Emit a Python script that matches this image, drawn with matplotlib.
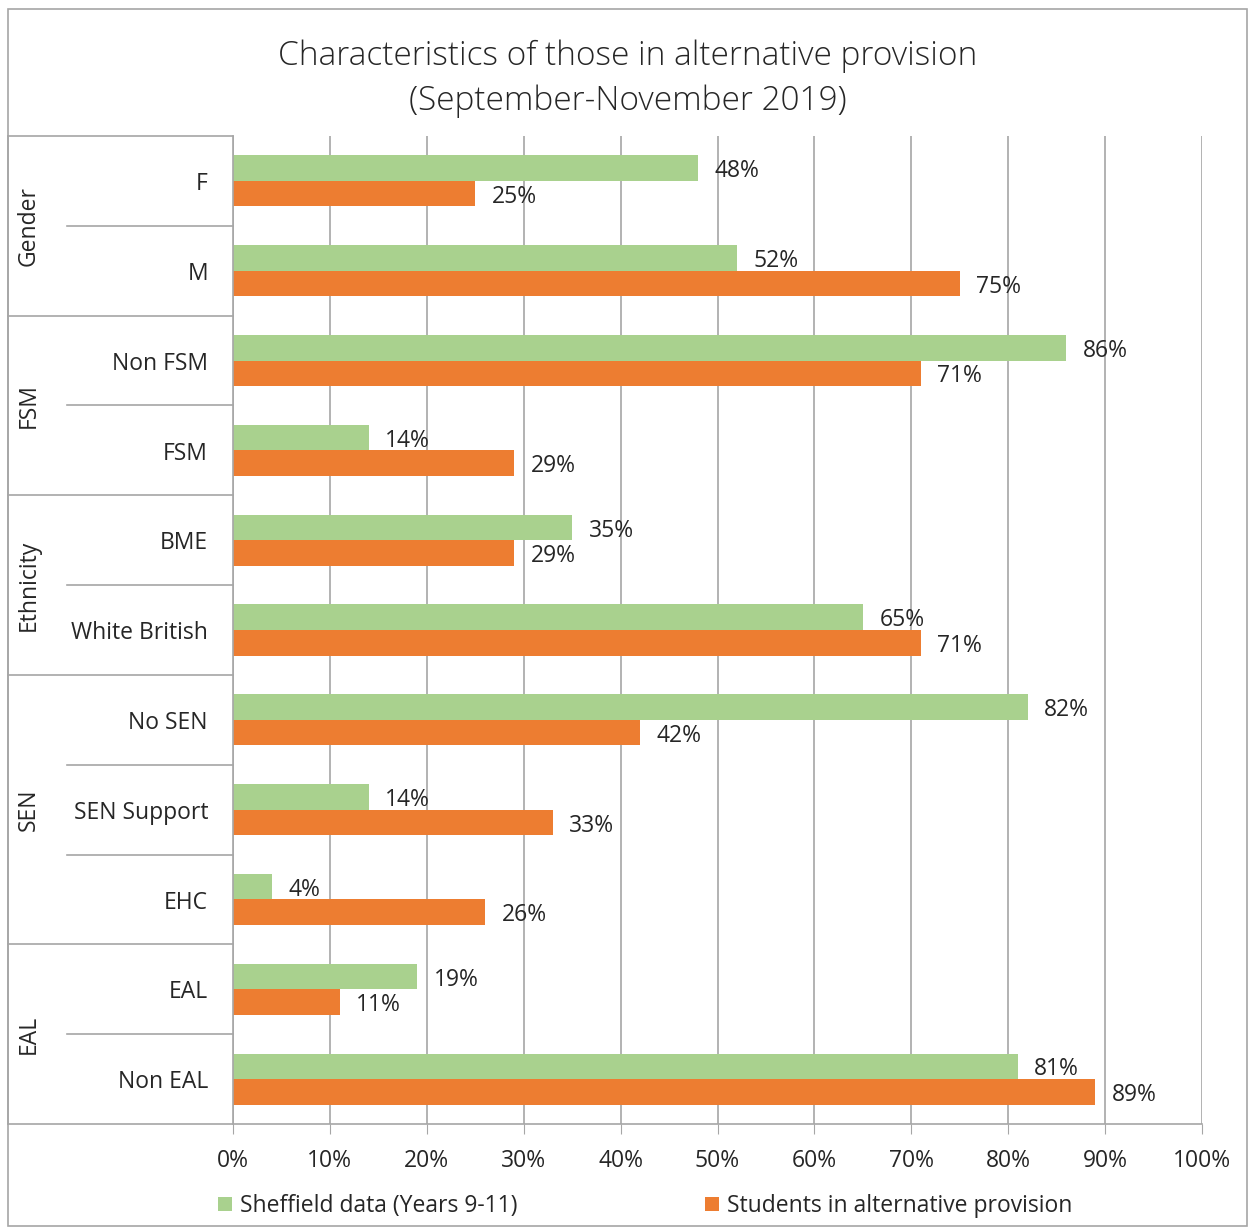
import numpy as np
import matplotlib
matplotlib.use("Agg")
import matplotlib.pyplot as plt
from matplotlib.patches import Rectangle
from matplotlib.lines import Line2D

plt.rcParams["font.family"] = ["Open Sans", "DejaVu Sans"]

# Данные
categories = ["F", "M", "Non FSM", "FSM", "BME", "White British",
              "No SEN", "SEN Support", "EHC", "EAL", "Non EAL"]
groups = ["Gender", "FSM", "Ethnicity", "SEN", "EAL"]
group_sizes = [2, 2, 2, 3, 2]
sheffield = [48, 52, 86, 14, 35, 65, 82, 14, 4, 19, 81]
alt_provision = [25, 75, 71, 29, 29, 71, 42, 33, 26, 11, 89]
x_ticks = [0, 10, 20, 30, 40, 50, 60, 70, 80, 90, 100]

GREEN = "#A9D18E"
ORANGE = "#ED7D31"
TEXT = "#262626"
GRID = "#A6A6A6"

W, H = 1248, 1227
fig = plt.figure(figsize=(W / 100, H / 100), dpi=100)
ax = fig.add_axes([233 / W, 1 - 1124 / H, (1202 - 233) / W, (1124 - 136) / H])

y = np.arange(len(categories))
h = 0.284
dy = 0.035  # небольшой сдвиг текста вниз
b1 = ax.barh(y - h / 2, sheffield, height=h, color=GREEN,
             label="Sheffield data (Years 9-11)", zorder=2)
b2 = ax.barh(y + h / 2, alt_provision, height=h, color=ORANGE,
             label="Students in alternative provision", zorder=2)

ax.set_xlim(0, 100)
ax.set_ylim(len(categories) - 0.5, -0.5)
ax.set_xticks(x_ticks)
ax.set_xticklabels([f"{v}%" for v in x_ticks], fontsize=16.5, color=TEXT)
ax.tick_params(axis="x", direction="out", length=7, color=GRID, pad=11)
ax.set_yticks([])
ax.grid(axis="x", color=GRID, linewidth=1.2, zorder=0)
for s in ["top", "right", "bottom"]:
    ax.spines[s].set_visible(False)
ax.spines["left"].set_color(GRID)
ax.spines["left"].set_linewidth(1.2)

# Подписи значений
for yi, v in zip(y, sheffield):
    ax.text(v + 1.7, yi - h / 2 + dy, f"{v}%", va="center", ha="left",
            fontsize=16.5, color=TEXT)
for yi, v in zip(y, alt_provision):
    ax.text(v + 1.7, yi + h / 2 + dy, f"{v}%", va="center", ha="left",
            fontsize=16.5, color=TEXT)

# Многоуровневая ось категорий
tr = ax.get_yaxis_transform()
x_outer = (8 - 233) / 969
x_inner = (67 - 233) / 969
x_group = (29 - 233) / 969
x_cat = (208 - 233) / 969

for yi, c in zip(y, categories):
    ax.text(x_cat, yi + dy, c, transform=tr, ha="right", va="center",
            fontsize=16.5, color=TEXT)

start = 0
ax.add_line(Line2D([x_outer, 0], [-0.5, -0.5], transform=tr, color=GRID,
                   lw=1.2, clip_on=False))
for g, n in zip(groups, group_sizes):
    end = start + n
    for k in range(start + 1, end):
        ax.add_line(Line2D([x_inner, 0], [k - 0.5, k - 0.5], transform=tr,
                           color=GRID, lw=1.2, clip_on=False))
    if end < len(categories):
        ax.add_line(Line2D([x_outer, 0], [end - 0.5, end - 0.5], transform=tr,
                           color=GRID, lw=1.2, clip_on=False))
    ax.text(x_group, (start + end - 1) / 2, g, transform=tr, rotation=90,
            ha="center", va="center", fontsize=16.5, color=TEXT)
    start = end

# нижняя линия оси
ax.add_line(Line2D([x_outer, 1], [len(categories) - 0.5] * 2, transform=tr,
                   color=GRID, lw=1.2, clip_on=False))
ax.add_line(Line2D([x_outer, x_outer], [-0.5, len(categories) - 0.5],
                   transform=tr, color=GRID, lw=1.2, clip_on=False))

# Заголовок
fig.text(628 / W, 1 - 79 / H,
         "Characteristics of those in alternative provision\n(September-November 2019)",
         ha="center", va="center", fontsize=24, fontweight="light",
         color=TEXT, linespacing=1.45)

# Легенда
fig.legend(handles=[b1, b2], loc="center", bbox_to_anchor=(645 / W, 1 - 1206 / H),
           ncol=2, frameon=False, fontsize=16.5, handlelength=0.6,
           handleheight=0.6, handletextpad=0.35, columnspacing=8.2,
           labelcolor=TEXT)

# Рамка диаграммы
fig.patches.append(Rectangle((8 / W, 1 - 1226 / H), (1247 - 8) / W, (1226 - 9) / H,
                             transform=fig.transFigure, fill=False,
                             edgecolor=GRID, lw=1.2))

fig.savefig("out.png", dpi=100)
